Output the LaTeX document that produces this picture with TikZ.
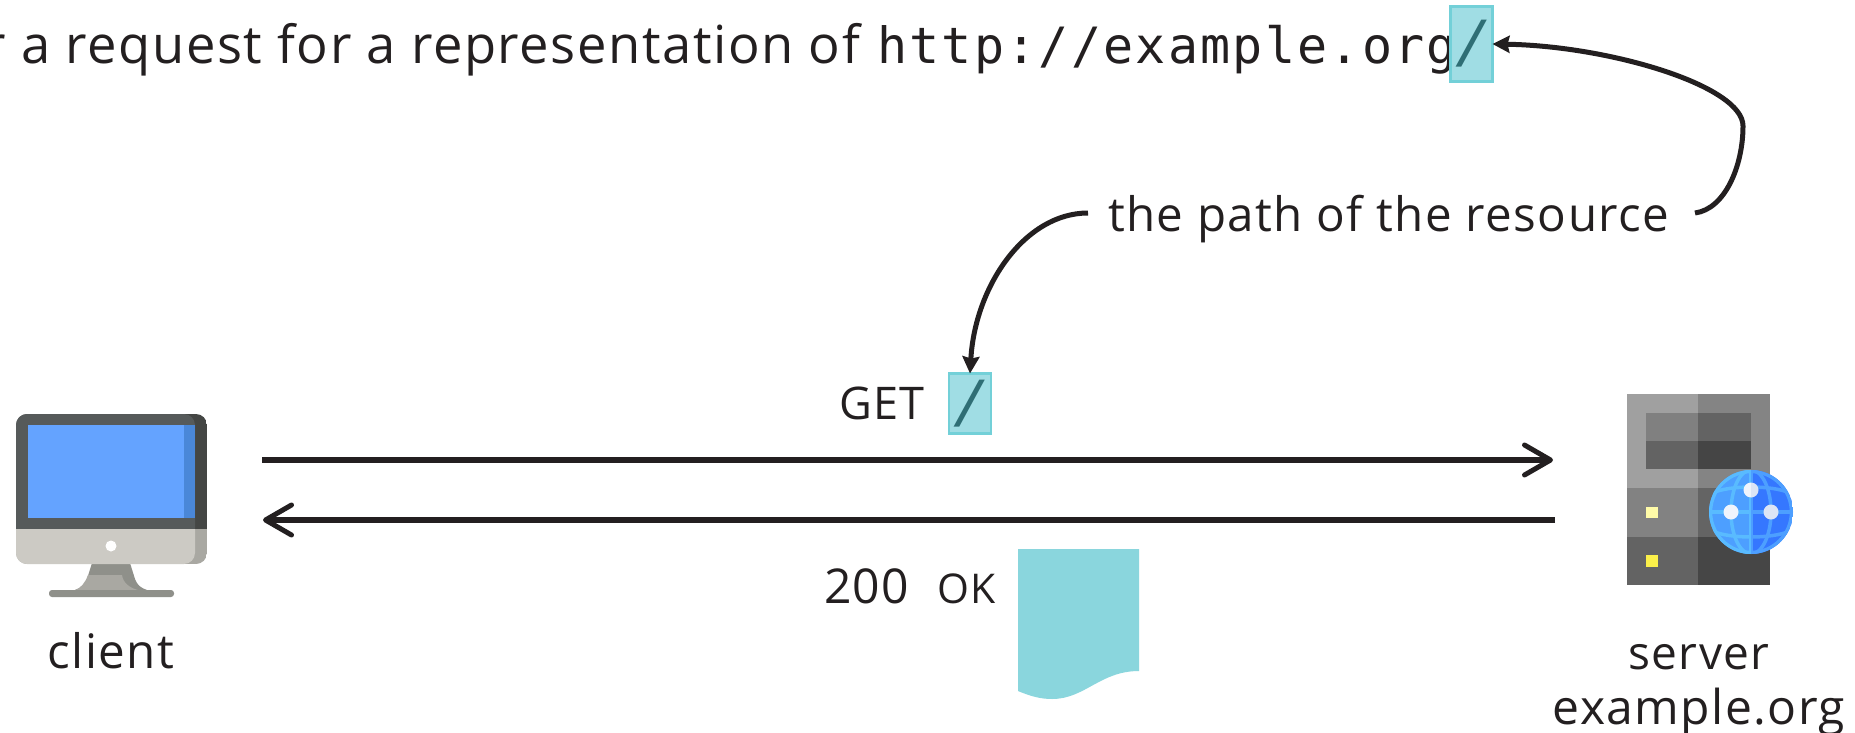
\documentclass[tikz,border=0pt]{standalone}
\usepackage{fontspec}
\usetikzlibrary{arrows.meta}
\setmainfont{Open Sans}
\newfontfamily\monof[LetterSpace=4.5]{DejaVu Sans Mono}
\newfontfamily\slashf{Liberation Mono}
\newfontfamily\bodyf[LetterSpace=3]{Open Sans}
\definecolor{ink}{HTML}{231F20}
\definecolor{boxfill}{HTML}{A0DDE4}
\definecolor{boxline}{HTML}{73D0D8}
\definecolor{slashc}{HTML}{2F6E75}
\definecolor{docc}{HTML}{8AD6DD}
\definecolor{lineL}{HTML}{59BBFF}
\definecolor{lineR}{HTML}{4D9FFF}
\definecolor{bezel}{HTML}{565A5A}
\definecolor{bezeldk}{HTML}{444644}
\definecolor{chin}{HTML}{CCCAC4}
\definecolor{chindk}{HTML}{A9A8A2}
\definecolor{screen}{HTML}{64A3FF}
\definecolor{screendk}{HTML}{4A87D8}
\definecolor{standc}{HTML}{8F908A}
\newcommand{\globelines}[1]{%
  \draw[#1,line width=3.5pt] (1751,511) circle[radius=40.5];
  \draw[#1,line width=3.5pt] (1751,469) -- (1751,553);
  \draw[#1,line width=3.5pt] (1709,511) -- (1793,511);
  \draw[#1,line width=3.5pt] (1751,511) ellipse[x radius=20,y radius=42];
  \draw[#1,line width=3.5pt] (1712,492) .. controls (1730,484) and (1772,484) .. (1790,492);
  \draw[#1,line width=3.5pt] (1712,530) .. controls (1730,538) and (1772,538) .. (1790,530);
}
\tikzset{
  txt/.style={inner sep=0pt,outer sep=0pt,text=ink,font=\fontsize{48}{55}\bodyf},
  monotxt/.style={inner sep=0pt,outer sep=0pt,text=ink,font=\fontsize{50}{57}\monof},
  pathbox/.style={draw=boxline,fill=boxfill,line width=2.5pt,minimum width=42pt,inner sep=0pt,outer sep=0pt,text=slashc,font=\fontsize{64}{66}\slashf},
  wire/.style={draw=ink,line width=5.5pt},
  flow/.style={wire,-{Straight Barb[length=26pt,width=30pt,line width=5pt,round]}},
  pointer/.style={draw=ink,line width=5pt,-{Stealth[length=17pt,width=17pt,inset=2pt]}}
}
\begin{document}
\begin{tikzpicture}[x=1pt,y=-1pt]
\useasboundingbox[fill=white] (0,0) rectangle (1855,733);
\begin{scope}[yshift=-1pt]
% ---- top sentence
\node[txt,anchor=base west,font=\fontsize{52.5}{60}\bodyf] (intro) at (-15.5,63) {r a request for a representation of};
\node[monotxt,anchor=base west] (url) at (877,63) {http://example.org};
\node[pathbox,minimum height=75pt] (topbox) at (1471.5,43) {\raisebox{-3pt}{/}};
% ---- label
\node[txt,anchor=base west,font=\fontsize{47.5}{55}\bodyf] (pathlabel) at (1108,230) {the path of the resource};
% ---- GET
\node[txt,anchor=base west,font=\fontsize{45}{52}\bodyf] (get) at (839,418) {GET};
\node[pathbox,minimum height=60pt] (getbox) at (970,402.5) {\raisebox{-1pt}{/}};
% ---- response
\node[txt,anchor=base west] (status) at (824,602) {200};
\node[txt,anchor=base west,font=\fontsize{41}{50}\bodyf] (ok) at (937,602) {OK};
\fill[docc] (1018,548) -- (1139,548) -- (1139,670) .. controls (1100,670) and (1085,698) .. (1052,698) .. controls (1040,698) and (1030,695) .. (1018,690) -- cycle;
% ---- client icon
\fill[standc] (92,562) -- (130,562) -- (135,578) .. controls (137,584) and (141,587) .. (147,589) -- (75,589) .. controls (81,587) and (85,584) .. (87,578) -- cycle;
\fill[chindk] (88,574) -- (122,574) .. controls (123,582) and (130,587) .. (138,589) -- (75,589) .. controls (81,587) and (85,582) .. (88,574) -- cycle;
\fill[standc,rounded corners=3pt] (49,589) rectangle (174,596);
\begin{scope}
  \clip[rounded corners=11pt] (16,413) rectangle (207,563);
  \fill[bezeldk] (16,413) rectangle (207,528);
  \fill[chindk] (16,528) rectangle (207,563);
  \fill[bezel] (16,413) -- (184,413) .. controls (190,413) and (195,418) .. (195,424) -- (195,528) -- (16,528) -- cycle;
  \fill[chin] (16,528) -- (195,528) -- (195,552) .. controls (195,558) and (190,563) .. (184,563) -- (16,563) -- cycle;
\end{scope}
\fill[screen] (27.5,424) rectangle (184,517);
\fill[screendk] (184,424) rectangle (195,517);
\fill[white] (111,545) circle[radius=5.5];
\node[txt,anchor=base,font=\fontsize{47.5}{55}\bodyf] (client) at (111,667) {client};
% ---- server icon
\fill[fill={rgb,255:red,160;green,160;blue,160}] (1627,393) rectangle (1698,487);
\fill[fill={rgb,255:red,132;green,132;blue,132}] (1698,393) rectangle (1770,487);
\fill[fill={rgb,255:red,128;green,128;blue,128}] (1646,412) rectangle (1698,440);
\fill[fill={rgb,255:red,99;green,99;blue,99}] (1698,412) rectangle (1751,440);
\fill[fill={rgb,255:red,99;green,99;blue,99}] (1646,440) rectangle (1698,468);
\fill[fill={rgb,255:red,69;green,69;blue,69}] (1698,440) rectangle (1751,468);
\fill[fill={rgb,255:red,130;green,130;blue,130}] (1627,487) rectangle (1698,536);
\fill[fill={rgb,255:red,100;green,100;blue,100}] (1698,487) rectangle (1770,536);
\fill[fill={rgb,255:red,99;green,99;blue,99}] (1627,536) rectangle (1698,584);
\fill[fill={rgb,255:red,70;green,70;blue,70}] (1698,536) rectangle (1770,584);
\fill[fill={rgb,255:red,255;green,251;blue,168}] (1646,506) rectangle (1658,517);
\fill[fill={rgb,255:red,251;green,240;blue,74}] (1646,554) rectangle (1658,566);
% globe
\begin{scope}
  \clip (1751,511) circle[radius=42];
  \fill[lineR] (1709,469) rectangle (1751,553);
  \fill[fill={rgb,255:red,53;green,119;blue,255}] (1751,469) rectangle (1793,553);
  \begin{scope}
    \clip (1709,469) rectangle (1751,553);
    \globelines{lineL}
  \end{scope}
  \begin{scope}
    \clip (1751,469) rectangle (1793,553);
    \globelines{lineR}
  \end{scope}
\end{scope}
\fill[fill={rgb,255:red,239;green,244;blue,252}] (1731,511) circle[radius=7.5];
\fill[fill={rgb,255:red,220;green,229;blue,245}] (1771,511) circle[radius=7.5];
\fill[fill={rgb,255:red,239;green,244;blue,252}] (1751,481.5) arc[start angle=-90,end angle=-270,radius=7.5] -- cycle;
\fill[fill={rgb,255:red,220;green,229;blue,245}] (1751,481.5) arc[start angle=-90,end angle=90,radius=7.5] -- cycle;
\node[txt,anchor=base,font=\fontsize{46}{52}\bodyf] (server) at (1699,668) {server};
\node[txt,anchor=base] (host) at (1699,723.5) {example.org};
% ---- connectors
\coordinate (reqa) at (262,459);
\coordinate (reqb) at (1553,459);
\coordinate (resa) at (1555,519);
\coordinate (resb) at (263,519);
\draw[flow] (reqa) -- (reqb);
\draw[flow] (resa) -- (resb);
\coordinate (labelr) at (1695,212);
\coordinate (labell) at (1088,212);
\draw[pointer] (labelr) .. controls (1725,208) and (1743,165) .. (1743,125) .. controls (1743,85) and (1610,45) .. (topbox.east);
\draw[pointer] (labell) .. controls (1025,212) and (975,285) .. (getbox.north);
\end{scope}
\end{tikzpicture}
\end{document}
